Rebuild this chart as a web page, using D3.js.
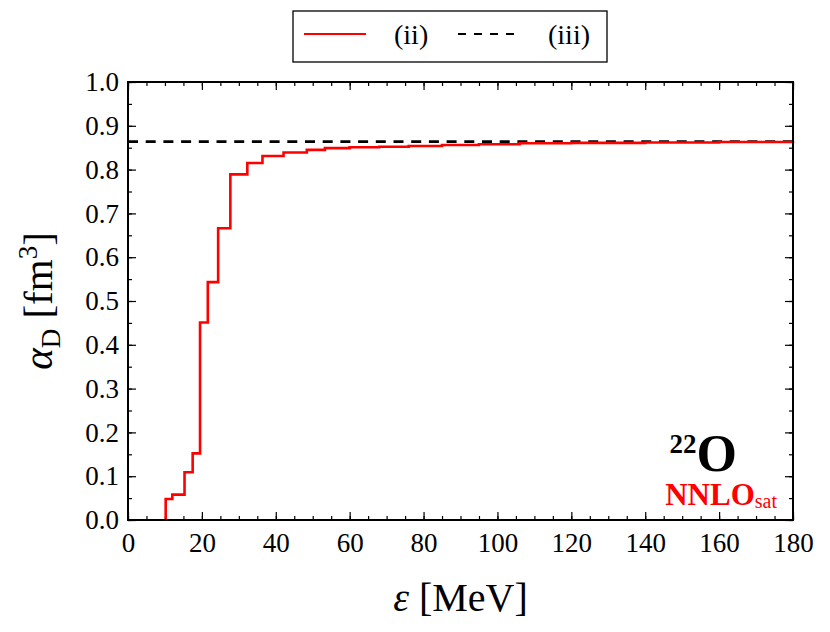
<!DOCTYPE html>
<html>
<head>
<meta charset="utf-8">
<script src="https://cdn.jsdelivr.net/npm/d3@7"></script>
<style>
  body { margin: 0; background: #fff; }
  svg text { font-family: "Liberation Serif", "DejaVu Serif", serif; fill: #000; }
</style>
</head>
<body>
<div id="chart"></div>
<script>
// step positions of the running sum (MeV) and its value (fm^3)
const energies = [10.2, 10.2, 12.0, 15.3, 17.5, 19.5, 21.6, 24.4, 27.7, 32.3, 36.4, 42.1, 48.4, 53.3,
                  60, 68, 76, 85, 95, 106, 120, 140, 160, 180];
const alphaD = [0, 0.048, 0.058, 0.109, 0.152, 0.451, 0.543, 0.666, 0.789, 0.815, 0.831, 0.839, 0.845, 0.849,
                0.851, 0.852, 0.854, 0.856, 0.858, 0.860, 0.861, 0.862, 0.863, 0.864];
const totalAlpha = 0.864;
const xTicks = [0, 20, 40, 60, 80, 100, 120, 140, 160, 180];
const yTicks = [0, 0.1, 0.2, 0.3, 0.4, 0.5, 0.6, 0.7, 0.8, 0.9, 1.0];

const W = 830, H = 632;
const margin = { left: 128, right: 37, top: 82, bottom: 112 };
const width = W - margin.left - margin.right;
const height = H - margin.top - margin.bottom;

const svg = d3.select("#chart").append("svg")
  .attr("width", W)
  .attr("height", H);

const g = svg.append("g")
  .attr("transform", `translate(${margin.left},${margin.top})`);

const xscale = d3.scaleLinear().domain([0, 180]).range([0, width]);
const yscale = d3.scaleLinear().domain([0, 1]).range([height, 0]);

// ticks pointing inward, on all four sides
const minorX = d3.range(0, 181, 5);
const minorY = d3.range(0, 1.0001, 0.05);

const axB = g.append("g").attr("transform", `translate(0,${height})`)
  .call(d3.axisBottom(xscale).tickValues(minorX).tickSize(-4).tickFormat(""));
axB.append("g").call(d3.axisBottom(xscale).tickValues(xTicks).tickSize(-8).tickPadding(13).tickFormat(d3.format("d")));
const axT = g.append("g")
  .call(d3.axisTop(xscale).tickValues(minorX).tickSize(-4).tickFormat(""));
axT.append("g").call(d3.axisTop(xscale).tickValues(xTicks).tickSize(-8).tickFormat(""));
const axL = g.append("g")
  .call(d3.axisLeft(yscale).tickValues(minorY).tickSize(-4).tickFormat(""));
axL.append("g").call(d3.axisLeft(yscale).tickValues(yTicks).tickSize(-8).tickPadding(9).tickFormat(d3.format(".1f")));
const axR = g.append("g").attr("transform", `translate(${width},0)`)
  .call(d3.axisRight(yscale).tickValues(minorY).tickSize(-4).tickFormat(""));
axR.append("g").call(d3.axisRight(yscale).tickValues(yTicks).tickSize(-8).tickFormat(""));

g.selectAll(".domain").remove();
g.selectAll("g").attr("font-family", null);
g.selectAll(".tick line").attr("stroke", "#000").attr("stroke-width", 1.2);
g.selectAll(".tick text")
  .style("font-size", "27px")
  .style("font-family", "'Liberation Serif', 'DejaVu Serif', serif");

// total (iii)
g.append("line")
  .attr("x1", xscale(0)).attr("x2", xscale(180))
  .attr("y1", yscale(totalAlpha)).attr("y2", yscale(totalAlpha))
  .attr("stroke", "#000")
  .attr("stroke-width", 2.8)
  .attr("stroke-dasharray", "10,7.7");

// running sum (ii)
const linea = d3.line()
  .x(d => xscale(d[0]))
  .y(d => yscale(d[1]))
  .curve(d3.curveStepAfter);

g.append("path")
  .datum(energies.map((e, i) => [e, alphaD[i]]))
  .attr("fill", "none")
  .attr("stroke", "#ff0000")
  .attr("stroke-width", 2.6)
  .attr("d", linea);

// frame
g.append("rect")
  .attr("width", width).attr("height", height)
  .attr("fill", "none").attr("stroke", "#000").attr("stroke-width", 2);

// nucleus label
const lab = g.append("text")
  .attr("x", 609).attr("y", 389)
  .attr("text-anchor", "end")
  .style("font-weight", "bold");
lab.append("tspan").attr("dy", -18).style("font-size", "27px").text("22");
lab.append("tspan").attr("dy", 18).style("font-size", "52px").text("O");

const lab2 = g.append("text")
  .attr("x", 649).attr("y", 423)
  .attr("text-anchor", "end")
  .style("fill", "#ff0000");
lab2.append("tspan").style("font-size", "31px").style("font-weight", "bold").text("NNLO");
lab2.append("tspan").attr("dy", 3).style("font-size", "20px").text("sat");

// axis titles
svg.append("text")
  .attr("x", margin.left + width / 2).attr("y", 611)
  .attr("text-anchor", "middle")
  .style("font-size", "40px")
  .html('<tspan font-style="italic">ε</tspan> [MeV]');

const yl = svg.append("text")
  .attr("transform", `translate(52,${margin.top + height / 2}) rotate(-90)`)
  .attr("text-anchor", "middle")
  .style("font-size", "41px");
yl.append("tspan").style("font-style", "italic").text("α");
yl.append("tspan").attr("dy", 8).style("font-size", "27px").text("D");
yl.append("tspan").attr("dy", -8).text(" [fm");
yl.append("tspan").attr("dy", -15).style("font-size", "27px").text("3");
yl.append("tspan").attr("dy", 15).text("]");

// legend
const legend = svg.append("g").attr("class", "legend");
legend.append("rect")
  .attr("x", 293).attr("y", 11).attr("width", 314).attr("height", 51)
  .attr("fill", "#fff").attr("stroke", "#000").attr("stroke-width", 1.3);
legend.append("line")
  .attr("x1", 304).attr("x2", 366).attr("y1", 34).attr("y2", 34)
  .attr("stroke", "#ff0000").attr("stroke-width", 2.2);
legend.append("text").attr("x", 394).attr("y", 44).style("font-size", "28px").text("(ii)");
legend.append("line")
  .attr("x1", 458).attr("x2", 520).attr("y1", 34).attr("y2", 34)
  .attr("stroke", "#000").attr("stroke-width", 2.2).attr("stroke-dasharray", "8,8");
legend.append("text").attr("x", 548).attr("y", 44).style("font-size", "28px").text("(iii)");
</script>
</body>
</html>
